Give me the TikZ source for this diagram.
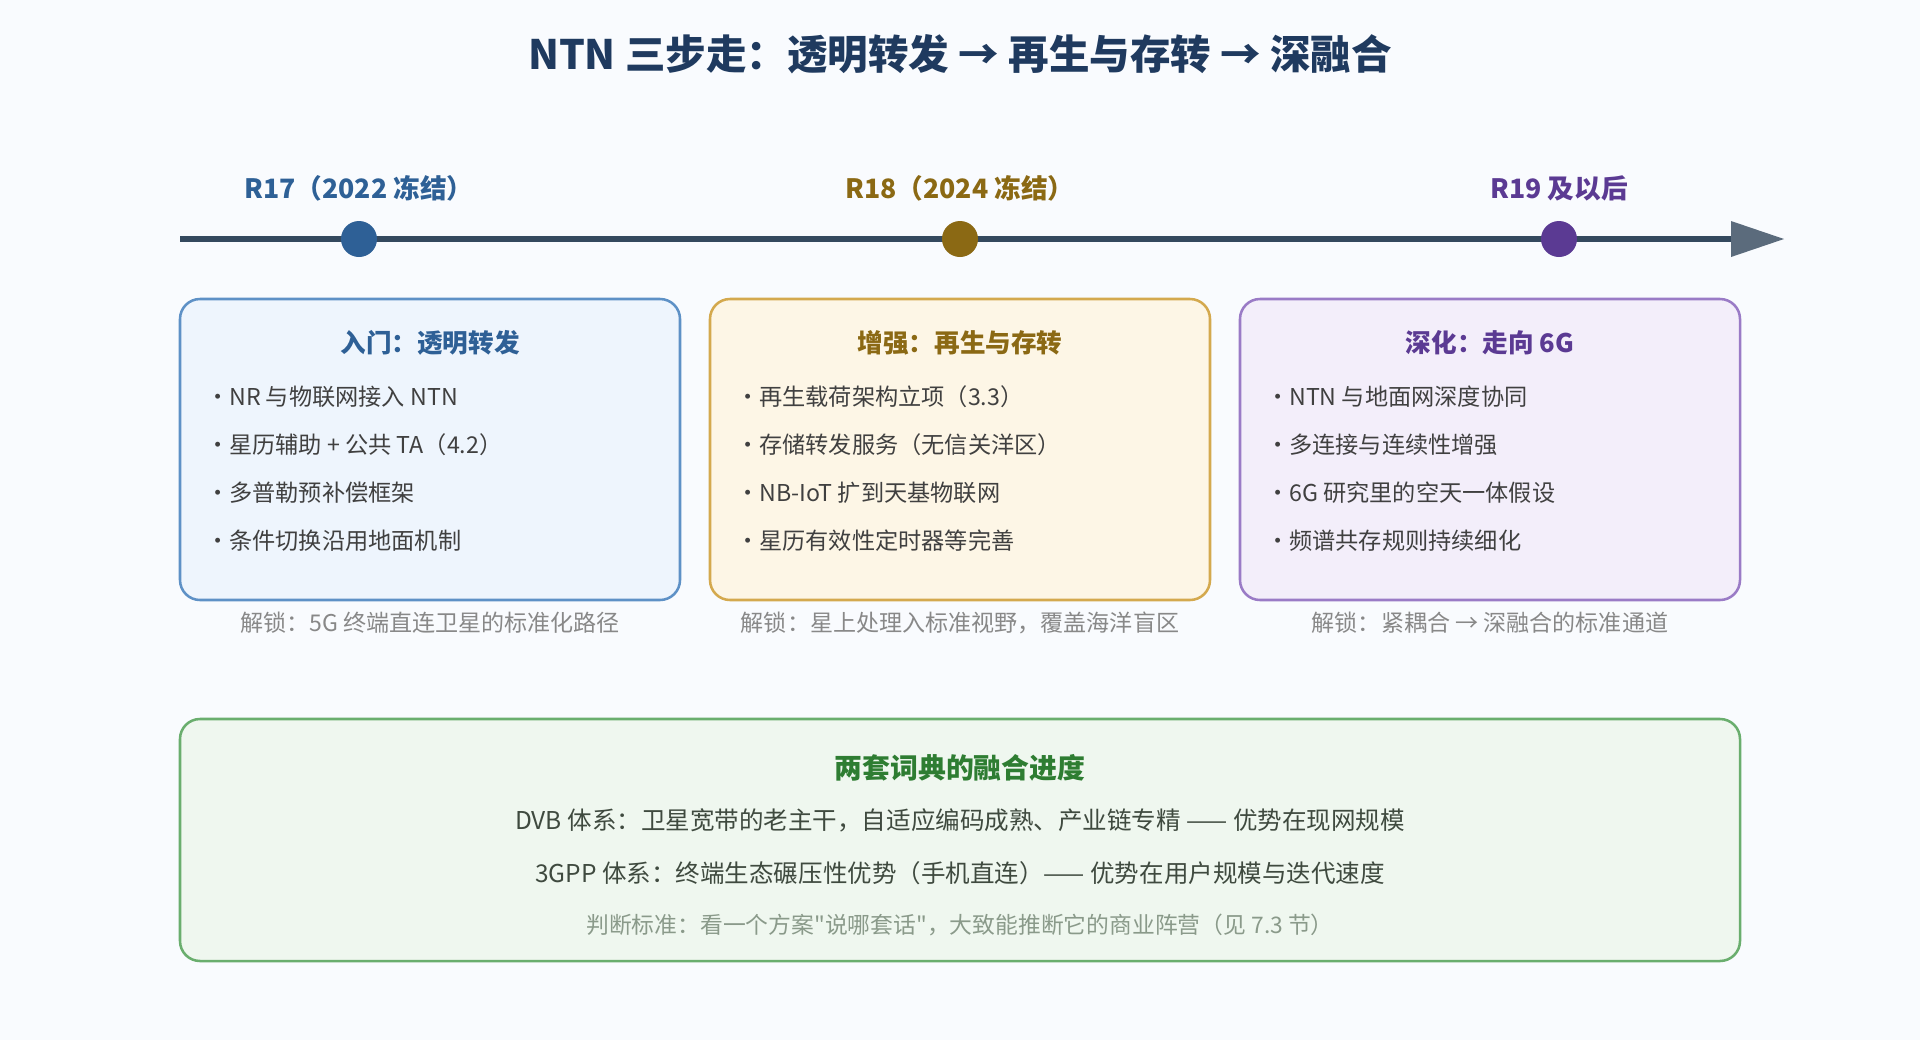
\documentclass[tikz,border=0pt]{standalone}
\usepackage{fontspec}
\setmainfont{Noto Sans CJK SC}
\newfontfamily\plainfont{Noto Sans CJK SC}
\usetikzlibrary{positioning}

% Farben
\definecolor{bgpage}{HTML}{F9FBFE}
\definecolor{navy}{HTML}{1F3A5F}
\definecolor{axis}{HTML}{34495E}
\definecolor{axishead}{HTML}{5B6B7C}
\definecolor{relblue}{HTML}{2E6096}
\definecolor{relgold}{HTML}{8B6914}
\definecolor{relpurple}{HTML}{5B3A93}
\definecolor{lineblue}{HTML}{5E91C6}
\definecolor{fillblue}{HTML}{EEF5FD}
\definecolor{linegold}{HTML}{D4A94E}
\definecolor{fillgold}{HTML}{FDF6E6}
\definecolor{linepurple}{HTML}{9A7BC6}
\definecolor{fillpurple}{HTML}{F3EEFA}
\definecolor{linegreen}{HTML}{6AAE6E}
\definecolor{fillgreen}{HTML}{EFF7EF}
\definecolor{textgreen}{HTML}{2E7D32}
\definecolor{bodytext}{HTML}{404040}
\definecolor{sumtext}{HTML}{3F4A3F}
\definecolor{hinttext}{HTML}{888888}
\definecolor{hintgreen}{HTML}{8A9A8A}

% Schriftgroesse in pt
\newcommand{\fs}[1]{\fontsize{#1}{#1}\selectfont}
% gerades Anfuehrungszeichen
\newcommand{\sq}{{\plainfont"}}

\tikzset{
	phase/.style 2 args={draw=#1, fill=#2, line width=1.9pt, rounded corners=15pt,
		minimum width=375pt, minimum height=225.75pt, inner sep=0pt},
	reldot/.style={circle, fill=#1, minimum size=27pt, inner sep=0pt},
	rellabel/.style={text=#1, font=\fs{20}\bfseries, inner sep=0pt},
	phasetitle/.style={text=#1, font=\fs{19.2}\bfseries, inner sep=0pt},
	bullet/.style={anchor=west, text=bodytext, font=\fs{17.4}, inner sep=0pt},
	unlock/.style={text=hinttext, font=\fs{17.3}, inner sep=0pt},
	sumline/.style={text=sumtext, font=\fs{18.4}, inner sep=0pt}
}

\begin{document}
\begin{tikzpicture}[x=0.75pt, y=-0.75pt]
	\useasboundingbox (0,0) rectangle (1920,1040);
	\fill[bgpage] (0,0) rectangle (1920,1040);

	% Titel
	\node[text=navy, font=\fs{30.4}\bfseries, inner sep=0pt] (title) at (960,54)
		{NTN 三步走：透明转发 → 再生与存转 → 深融合};

	% Zeitachse
	\coordinate (axisstart) at (180,239);
	\coordinate (axisend) at (1731,239);
	\draw[axis, line width=3.8pt] (axisstart) -- (axisend);
	\fill[axishead] (axisend) ++(0,-18) -- ++(53,18) -- ++(-53,18) -- cycle;

	% Releases
	\node[reldot=relblue] (dot17) at (359,239) {};
	\node[reldot=relgold] (dot18) at (960,239) {};
	\node[reldot=relpurple] (dot19) at (1559,239) {};
	\node[rellabel=relblue] (lab17) at (359,188) {R17（2022 冻结）};
	\node[rellabel=relgold] (lab18) at (960,188) {R18（2024 冻结）};
	\node[rellabel=relpurple] (lab19) at (1559,188) {R19 及以后};

	% Phasen
	\node[phase={lineblue}{fillblue}] (boxA) at (430,449.5) {};
	\node[phase={linegold}{fillgold}] (boxB) at (960,449.5) {};
	\node[phase={linepurple}{fillpurple}] (boxC) at (1490,449.5) {};
	\node[phasetitle=relblue] (headA) at (430,343) {入门：透明转发};
	\node[phasetitle=relgold] (headB) at (960,343) {增强：再生与存转};
	\node[phasetitle=relpurple] (headC) at (1490,343) {深化：走向 6G};

	\foreach \t [count=\i from 0] in {NR 与物联网接入 NTN, 星历辅助 + 公共 TA（4.2）,
		多普勒预补偿框架, 条件切换沿用地面机制}
		\node[bullet] (itemA\i) at (229,{397+48*\i}) {\llap{·}\t};
	\foreach \t [count=\i from 0] in {再生载荷架构立项（3.3）, 存储转发服务（无信关洋区）,
		NB-IoT 扩到天基物联网, 星历有效性定时器等完善}
		\node[bullet] (itemB\i) at (759,{397+48*\i}) {\llap{·}\t};
	\foreach \t [count=\i from 0] in {NTN 与地面网深度协同, 多连接与连续性增强,
		6G 研究里的空天一体假设, 频谱共存规则持续细化}
		\node[bullet] (itemC\i) at (1289,{397+48*\i}) {\llap{·}\t};

	\node[unlock] (unlockA) at (430,623) {解锁：5G 终端直连卫星的标准化路径};
	\node[unlock] (unlockB) at (960,623) {解锁：星上处理入标准视野，覆盖海洋盲区};
	\node[unlock] (unlockC) at (1490,623) {解锁：紧耦合 → 深融合的标准通道};

	% Zusammenfassung unten
	\node[phase={linegreen}{fillgreen}, minimum width=1170pt, minimum height=181.5pt]
		(sumbox) at (960,840) {};
	\node[text=textgreen, font=\fs{20.9}\bfseries, inner sep=0pt] (sumhead) at (960,768)
		{两套词典的融合进度};
	\node[sumline] (sumdvb) at (960,820)
		{DVB 体系：卫星宽带的老主干，自适应编码成熟、产业链专精 —— 优势在现网规模};
	\node[sumline] (sumgpp) at (960,873)
		{3GPP 体系：终端生态碾压性优势（手机直连）—— 优势在用户规模与迭代速度};
	\node[sumline, text=hintgreen, font=\fs{17.1}] (sumrule) at (960,925)
		{判断标准：看一个方案\sq 说哪套话\sq，大致能推断它的商业阵营（见 7.3 节）};
\end{tikzpicture}
\end{document}
